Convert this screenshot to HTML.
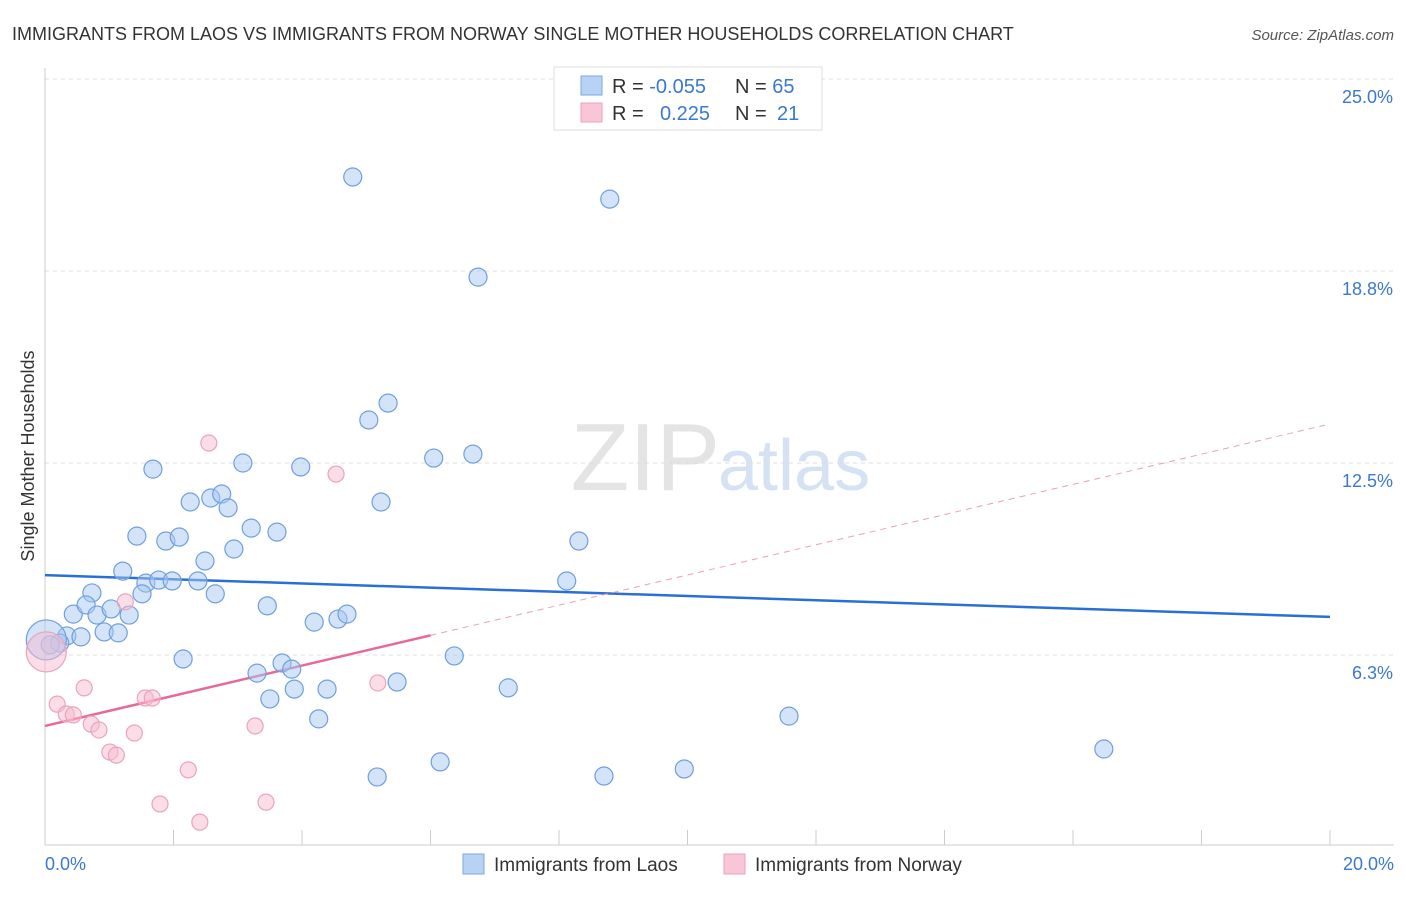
<!DOCTYPE html>
<html><head><meta charset="utf-8"><style>
body{margin:0;background:#fff;font-family:"Liberation Sans",sans-serif;}
svg text{font-family:"Liberation Sans",sans-serif;}
</style></head><body>
<svg id="chart" width="1406" height="892" xmlns="http://www.w3.org/2000/svg">
<text x="12" y="40" font-size="18" fill="#333">IMMIGRANTS FROM LAOS VS IMMIGRANTS FROM NORWAY SINGLE MOTHER HOUSEHOLDS CORRELATION CHART</text>
<text x="1394" y="40" font-size="15" fill="#555" font-style="italic" text-anchor="end">Source: ZipAtlas.com</text>
<text x="720" y="490" font-size="96" fill="#e4e4e4" text-anchor="end" font-family="Liberation Serif">ZIP</text>
<text x="718" y="490" font-size="72" fill="#d4e2f4">atlas</text>
<text transform="translate(34,456) rotate(-90)" font-size="18" fill="#333" text-anchor="middle">Single Mother Households</text>
<g id="grid"></g><g id="axes"></g><g id="trend"></g><g id="pts"></g>
<g>
<rect x="554" y="67" width="268" height="63" fill="#fff" stroke="#ddd"/>
<rect x="581" y="76" width="21" height="19" fill="#b8d2f3" stroke="#7aaae6"/>
<rect x="581" y="103" width="21" height="19" fill="#f9c6d6" stroke="#eba3bb"/>
<text x="612" y="93" font-size="20" fill="#333">R = <tspan fill="#3a78d4">-0.055</tspan><tspan x="735">N = </tspan><tspan fill="#3a78d4">65</tspan></text>
<text x="612" y="120" font-size="20" fill="#333">R = <tspan x="660" fill="#3a78d4">0.225</tspan><tspan x="735">N = </tspan><tspan x="777" fill="#3a78d4">21</tspan></text>
</g>
<g>
<rect x="463" y="854" width="21" height="20" fill="#b8d2f3" stroke="#7aaae6"/>
<text x="494" y="871" font-size="19" fill="#333">Immigrants from Laos</text>
<rect x="724" y="854" width="21" height="20" fill="#f9c6d6" stroke="#eba3bb"/>
<text x="755" y="871" font-size="19" fill="#333">Immigrants from Norway</text>
</g>
</svg>
<script>
const yTicks=[25.0,18.8,12.5,6.3];
const yTickVals=[25,18.75,12.5,6.25];
const xTickLabels=["0.0%","20.0%"];
const laosX=[4.79,8.79,6.74,5.34,5.04,6.05,6.66,1.68,3.08,3.98,5.23,2.26,2.58,2.75,2.85,1.43,1.88,2.09,3.21,3.61,2.94,2.49,8.31,1.21,1.57,1.77,1.98,2.38,1.51,2.65,0.73,8.12,0.44,0.64,0.81,1.03,1.31,0.92,1.14,3.46,4.19,4.56,4.70,0.34,0.56,0.23,0.08,0.02,2.15,3.69,3.84,3.30,6.37,5.48,3.50,3.88,4.39,7.21,4.26,11.58,16.48,5.17,6.15,8.70,9.95];
const laosY=[21.81,21.09,18.55,14.45,13.90,12.66,12.79,12.30,12.50,12.37,11.23,11.23,11.36,11.49,11.04,10.12,9.96,10.09,10.38,10.25,9.70,9.31,9.96,8.98,8.59,8.69,8.66,8.66,8.24,8.24,8.27,8.66,7.58,7.88,7.55,7.75,7.55,7.00,6.97,7.85,7.32,7.42,7.58,6.87,6.84,6.64,6.58,6.74,6.12,5.99,5.79,5.66,6.22,5.37,4.82,5.14,5.14,5.18,4.17,4.26,3.19,2.28,2.77,2.31,2.54];
const norX=[0.02,2.55,4.53,1.25,0.61,0.19,0.33,0.44,0.72,0.84,1.39,1.01,1.11,1.56,1.67,5.18,3.27,2.23,1.79,3.44,2.41];
const norY=[6.35,13.15,12.14,7.98,5.18,4.65,4.33,4.30,4.00,3.81,3.71,3.09,2.99,4.85,4.85,5.34,3.94,2.51,1.40,1.46,0.81];
const laosTrend=[8.85,7.49];
const norTrend=[3.94,13.77];
const NS="http://www.w3.org/2000/svg";
const X=v=>45+v*64.25, Y=v=>847-v*30.72;
function mk(p,t,a){const e=document.createElementNS(NS,t);for(const k in a)e.setAttribute(k,a[k]);document.getElementById(p).appendChild(e);return e;}
yTickVals.forEach((v,i)=>{
 const l=mk('grid','line',{x1:45,x2:1394,y1:Y(v),y2:Y(v),stroke:'#ddd','stroke-dasharray':'4,4'});
 
 
 const t=mk('grid','text',{x:1393,y:Y(v)+24,'font-size':18,fill:'#3a78d4','text-anchor':'end'});
 t.textContent=yTicks[i].toFixed(1)+'%';
 
 
});
mk('axes','line',{x1:45,x2:45,y1:68,y2:845,stroke:'#ccc'});
mk('axes','line',{x1:45,x2:1394,y1:845,y2:845,stroke:'#ccc'});
for(let i=0;i<=10;i++){mk('axes','line',{x1:X(i*2),x2:X(i*2),y1:830,y2:845,stroke:'#ccc'});}
const tl=mk('axes','text',{x:45,y:870,'font-size':18,fill:'#3a78d4'});tl.textContent=xTickLabels[0];


const tr=mk('axes','text',{x:1394,y:870,'font-size':18,fill:'#3a78d4','text-anchor':'end'});tr.textContent=xTickLabels[1];


const bt=mk('trend','line',{x1:X(0),y1:Y(laosTrend[0]),x2:X(20),y2:Y(laosTrend[1]),stroke:'#2a6fd6','stroke-width':2.5});


const ny=x=>norTrend[0]+(norTrend[1]-norTrend[0])*x/20;
const pt=mk('trend','line',{x1:X(0),y1:Y(ny(0)),x2:X(6),y2:Y(ny(6)),stroke:'#e8689a','stroke-width':2.5});


const pd=mk('trend','line',{x1:X(6),y1:Y(ny(6)),x2:X(20),y2:Y(ny(20)),stroke:'#e8a0b8','stroke-width':1,'stroke-dasharray':'6,5'});


laosX.forEach((x,i)=>{
 const c=mk('pts','circle',{cx:X(x),cy:Y(laosY[i]),r:i==47?20:9,fill:'rgba(168,200,242,0.5)',stroke:'#6f9fe0','stroke-width':1.2});
 
 
});
norX.forEach((x,i)=>{
 const c=mk('pts','circle',{cx:X(x),cy:Y(norY[i]),r:i==0?20:8,fill:'rgba(248,188,208,0.5)',stroke:'#eba3bb','stroke-width':1.2});
 
 
});
</script>
</body></html>
